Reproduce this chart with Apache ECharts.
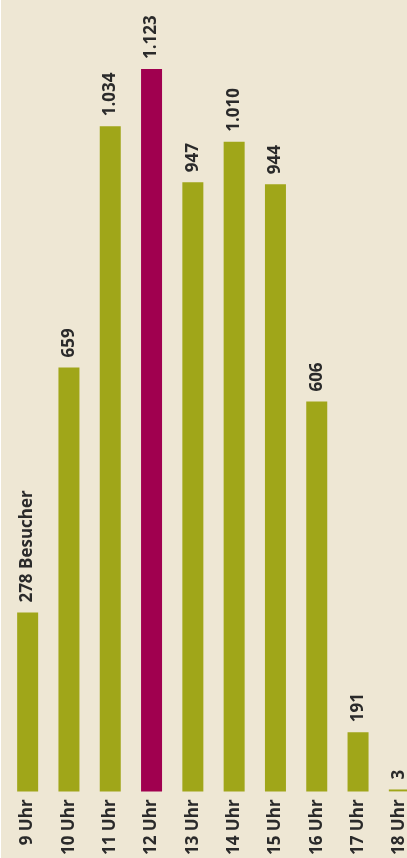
<!DOCTYPE html>
<html>
<head>
<meta charset="utf-8">
<script src="https://cdn.jsdelivr.net/npm/echarts@6/dist/echarts.min.js"></script>
<style>
html,body{margin:0;padding:0;background:#fff;overflow:hidden;width:407px;height:858px;}
#wrap{position:absolute;left:1px;top:0;width:406px;height:858px;overflow:hidden;}
#c{position:absolute;left:0;top:0;width:430px;height:858px;background:#EEE7D4;}
</style>
</head>
<body>
<div id="wrap"><div id="c"></div></div>
<script>
const categories = ['9 Uhr','10 Uhr','11 Uhr','12 Uhr','13 Uhr','14 Uhr','15 Uhr','16 Uhr','17 Uhr','18 Uhr'];
// bar heights as drawn in the picture (the 17 Uhr bar is drawn shorter than its label)
const barValues = [278, 659, 1034, 1123, 947, 1010, 944, 606, 92, 3];
const valueLabels = ['278 Besucher','659','1.034','1.123','947','1.010','944','606','191','3'];
const highlightIndex = 3;

const chart = echarts.init(document.getElementById('c'), null, {renderer:'canvas'});
const green = '#A0A619';
const magenta = '#A0004F';
const fontFamily = '"Open Sans", "Noto Sans", sans-serif';

chart.setOption({
  backgroundColor: '#EEE7D4',
  animation: false,
  grid: { left: 6, top: 19.5, width: 413, height: 774.5, containLabel: false },
  xAxis: {
    type: 'category',
    data: categories,
    axisLine: { show: false },
    axisTick: { show: false },
    axisLabel: {
      rotate: 90,
      margin: 8,
      interval: 0,
      color: '#2a2a2a',
      fontFamily: fontFamily,
      fontWeight: 'bold',
      fontSize: 17
    }
  },
  yAxis: {
    type: 'value',
    min: 0,
    max: 1200,
    show: false,
    splitLine: { show: false }
  },
  series: [{
    type: 'bar',
    barWidth: 21,
    data: barValues.map((v, i) => ({
      value: v,
      itemStyle: { color: i === highlightIndex ? magenta : green }
    })),
    label: {
      show: true,
      position: 'top',
      rotate: 90,
      align: 'left',
      verticalAlign: 'middle',
      distance: 10,
      color: '#2a2a2a',
      fontFamily: fontFamily,
      fontWeight: 'bold',
      fontSize: 17,
      formatter: p => valueLabels[p.dataIndex]
    }
  }]
});
</script>
</body>
</html>
